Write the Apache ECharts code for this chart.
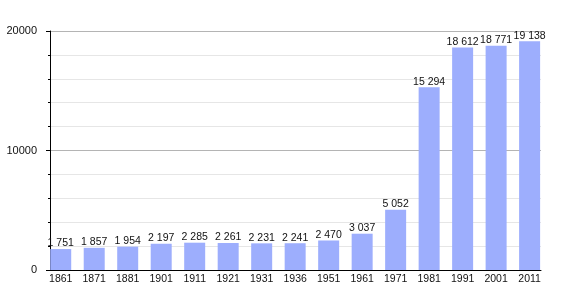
<!DOCTYPE html>
<html>
<head>
<meta charset="utf-8">
<script src="https://cdn.jsdelivr.net/npm/echarts@6/dist/echarts.min.js"></script>
<style>html,body{margin:0;padding:0;background:#fff}#c{width:570px;height:300px}</style>
</head>
<body>
<div id="c"></div>
<script>
var years = ['1861','1871','1881','1901','1911','1921','1931','1936','1951','1961','1971','1981','1991','2001','2011'];
var population = [1751,1857,1954,2197,2285,2261,2231,2241,2470,3037,5052,15294,18612,18771,19138];
var yTicks = [0,10000,20000];

function fmt(v){ return String(v).replace(/\B(?=(\d{3})+(?!\d))/g, ' '); }

var chart = echarts.init(document.getElementById('c'));
var idx = years.map(function(_, i){ return i; });
chart.setOption({
  animation: false,
  grid: {left: 50, right: 29, top: 31, bottom: 30},
  xAxis: {
    type: 'value', min: -0.32, max: 14.34,
    splitLine: {show: false},
    axisLine: {show: true, onZero: false, lineStyle: {color: '#000', width: 1}},
    axisTick: {show: false},
    axisLabel: {
      customValues: idx, margin: 4,
      fontFamily: 'Liberation Sans, Arial, sans-serif', fontSize: 10.5, color: '#111',
      formatter: function(v){ return years[Math.round(v)]; }
    }
  },
  yAxis: {
    type: 'value', min: yTicks[0], max: yTicks[2], interval: 10000,
    axisLine: {show: true, onZero: false, lineStyle: {color: '#000', width: 1}},
    axisTick: {show: true, length: 4, lineStyle: {color: '#000'}},
    minorTick: {show: true, splitNumber: 5, length: 2, lineStyle: {color: '#000'}},
    splitLine: {show: true, lineStyle: {color: '#b4b4b4', width: 1}},
    minorSplitLine: {show: true, lineStyle: {color: '#e6e6e6', width: 1}},
    axisLabel: {
      margin: 13, fontFamily: 'Liberation Sans, Arial, sans-serif', fontSize: 11, color: '#111',
      formatter: function(v){ return String(v); }
    }
  },
  series: [{
    type: 'bar',
    barWidth: 21,
    data: population.map(function(v, i){ return [i, v]; }),
    itemStyle: {color: '#9daefd'},
    label: {
      show: true, position: 'top', distance: 0,
      fontFamily: 'Liberation Sans, Arial, sans-serif', fontSize: 10.5, color: '#111',
      formatter: function(p){ return fmt(p.value[1]); }
    }
  }]
});
</script>
</body>
</html>
